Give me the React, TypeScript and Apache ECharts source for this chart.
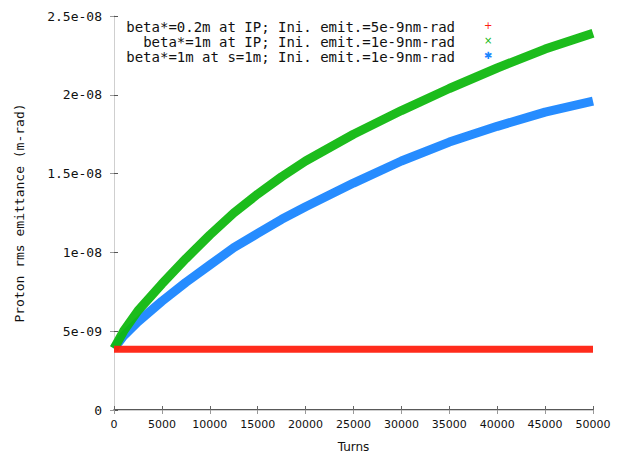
import React, { useEffect, useRef } from "react";
import * as echarts from "echarts";

// Turn numbers at which the emittance was sampled
const turns = [0, 1000, 2500, 5000, 7500, 10000, 12500, 15000, 17500, 20000, 25000, 30000, 35000, 40000, 45000, 50000];

// Proton rms emittance (m-rad)
const emitIP02 = [3.85e-9, 3.85e-9, 3.85e-9, 3.85e-9, 3.85e-9, 3.85e-9, 3.85e-9, 3.85e-9, 3.85e-9, 3.85e-9, 3.85e-9, 3.85e-9, 3.85e-9, 3.85e-9, 3.85e-9, 3.85e-9];
const emitIP1 = [3.9e-9, 5.0e-9, 6.3e-9, 8.0e-9, 9.6e-9, 11.1e-9, 12.5e-9, 13.7e-9, 14.8e-9, 15.8e-9, 17.5e-9, 19.0e-9, 20.4e-9, 21.7e-9, 22.9e-9, 23.9e-9];
const emitS1 = [3.9e-9, 4.7e-9, 5.6e-9, 6.9e-9, 8.1e-9, 9.2e-9, 10.3e-9, 11.2e-9, 12.1e-9, 12.9e-9, 14.4e-9, 15.8e-9, 17.0e-9, 18.0e-9, 18.9e-9, 19.6e-9];

const seriesNames = [
  "beta*=0.2m at IP; Ini. emit.=5e-9nm-rad",
  "beta*=1m at IP; Ini. emit.=1e-9nm-rad",
  "beta*=1m at s=1m; Ini. emit.=1e-9nm-rad",
];
const seriesColors = ["#ff2010", "#10b810", "#1a86ff"];
const legendMarks = ["+", "×", "✱"];

const yTickLabels = ["0", "5e-09", "1e-08", "1.5e-08", "2e-08", "2.5e-08"];

const MONO = "'DejaVu Sans Mono', 'Liberation Mono', monospace";
const SANS = "'DejaVu Sans', sans-serif";

export default function App() {
  const ref = useRef<HTMLDivElement>(null);

  useEffect(() => {
    if (!ref.current) return;
    const chart = echarts.init(ref.current, undefined, { renderer: "svg" });

    const pairs = (ys: number[]) => turns.map((t, i) => [t, ys[i]]);
    const values = [emitIP02, emitIP1, emitS1];
    const widths = [7, 9, 9];

    chart.setOption({
      animation: false,
      backgroundColor: "#ffffff",
      grid: { left: 114, right: 33, top: 16, bottom: 44 },
      xAxis: [
        {
          type: "value",
          min: 0,
          max: 50000,
          interval: 5000,
          name: "Turns",
          nameLocation: "middle",
          nameGap: 31,
          nameTextStyle: { fontFamily: SANS, fontSize: 12, color: "#111" },
          axisLine: { show: true, lineStyle: { color: "#222", width: 1.5 } },
          axisTick: { show: true, inside: true, length: 4, lineStyle: { color: "#666" } },
          axisLabel: {
            fontFamily: SANS,
            fontSize: 11,
            color: "#111",
            margin: 9,
            formatter: (v: number) => String(v),
          },
          splitLine: { show: false },
        },
        {
          type: "value",
          position: "top",
          min: 0,
          max: 50000,
          interval: 5000,
          axisLine: { show: true, lineStyle: { color: "#cfcfcf" } },
          axisTick: { show: true, inside: true, length: 4, lineStyle: { color: "#999" } },
          axisLabel: { show: false },
          splitLine: { show: false },
        },
      ],
      yAxis: [
        {
          type: "value",
          min: 0,
          max: 2.5e-8,
          interval: 5e-9,
          name: "Proton rms emittance (m-rad)",
          nameLocation: "middle",
          nameGap: 88,
          nameRotate: 90,
          nameTextStyle: { fontFamily: MONO, fontSize: 13, color: "#111" },
          axisLine: { show: true, lineStyle: { color: "#cfcfcf" } },
          axisTick: { show: true, inside: true, length: 4, lineStyle: { color: "#555" } },
          axisLabel: {
            fontFamily: MONO,
            fontSize: 13,
            color: "#111",
            margin: 12,
            formatter: (v: number) => yTickLabels[Math.round(v / 5e-9)] ?? "",
          },
          splitLine: { show: false },
        },
        {
          type: "value",
          position: "right",
          min: 0,
          max: 2.5e-8,
          interval: 5e-9,
          axisLine: { show: true, lineStyle: { color: "#cfcfcf" } },
          axisTick: { show: true, inside: true, length: 4, lineStyle: { color: "#999" } },
          axisLabel: { show: false },
          splitLine: { show: false },
        },
      ],
      series: values.map((ys, i) => ({
        name: seriesNames[i],
        type: "line",
        data: pairs(ys),
        smooth: false,
        showSymbol: false,
        symbol: "none",
        z: 3 - i,
        lineStyle: { color: seriesColors[i], width: widths[i], cap: "butt", join: "round", opacity: 0.95 },
      })),
      graphic: [
        ...seriesNames.map((name, i) => ({
          type: "text",
          right: 626 - 455,
          top: 20 + i * 15,
          style: {
            text: name,
            fontFamily: MONO,
            fontSize: 14,
            fill: "#111",
            textAlign: "right",
          },
        })),
        ...legendMarks.map((m, i) => ({
          type: "text",
          left: 484,
          top: 20 + i * 15,
          style: {
            text: m,
            fontFamily: SANS,
            fontSize: 10,
            fill: seriesColors[i],
          },
        })),
      ],
    });

    return () => chart.dispose();
  }, []);

  return <div ref={ref} style={{ width: 626, height: 458, position: "absolute", left: 0, top: 0 }} />;
}
